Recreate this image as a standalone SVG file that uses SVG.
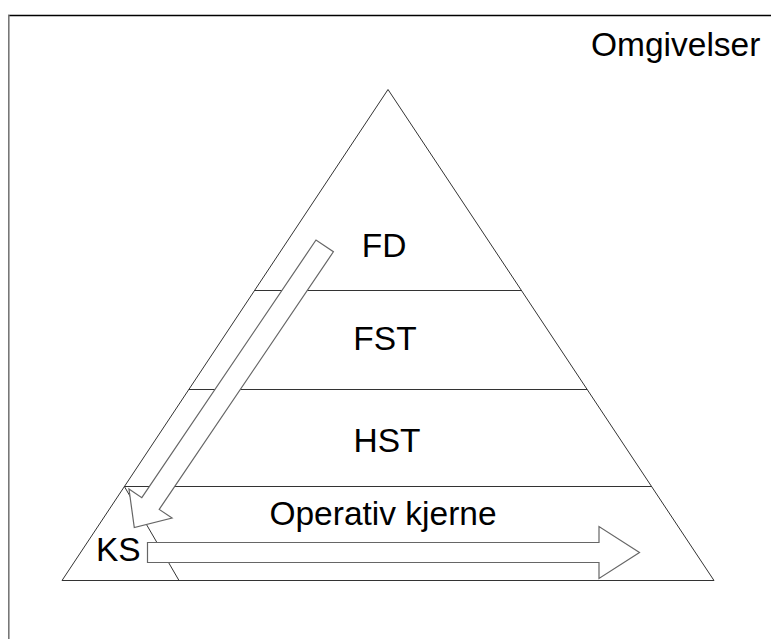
<svg xmlns="http://www.w3.org/2000/svg" width="771" height="639" viewBox="0 0 771 639">
<style>
.lbl{font-family:"Liberation Sans",Arial,sans-serif;font-size:33.5px;fill:#000}
.edge{fill:none;stroke:#333;stroke-width:1}
.arrow{fill:#fff;stroke:#666;stroke-width:1.2;stroke-linejoin:miter}
</style>
<rect x="0" y="0" width="771" height="639" fill="#fff"/>
<g id="frame">
<line x1="8" y1="15.5" x2="771" y2="15.5" stroke="#000" stroke-width="1.5"/>
<line x1="8.8" y1="15" x2="8.8" y2="639" stroke="#777" stroke-width="1.6"/>
</g>
<g id="pyramid">
<path class="edge" d="M388,89.5 L62,580.5 L714,580.5 Z" stroke="#555"/>
<line class="edge" x1="254.5" y1="290.5" x2="521.5" y2="290.5"/>
<line class="edge" x1="188.8" y1="389.5" x2="587.2" y2="389.5"/>
<line class="edge" x1="124.4" y1="486.5" x2="651.6" y2="486.5"/>
<line class="edge" x1="124.4" y1="486.5" x2="179" y2="580.5" stroke="#555"/>
</g>
<g id="labels">
<text class="lbl" x="591" y="56">Omgivelser</text>
<text class="lbl" x="384" y="257" text-anchor="middle">FD</text>
<text class="lbl" x="385" y="350" text-anchor="middle">FST</text>
<text class="lbl" x="387" y="452" text-anchor="middle">HST</text>
<text class="lbl" x="383" y="525" text-anchor="middle">Operativ kjerne</text>
<text class="lbl" x="96" y="561">KS</text>
</g>
<g id="connectors">
<polygon class="arrow" transform="translate(324.7,245.9) rotate(124.06)" points="0,-10.5 311,-10.5 311,-26 340,0 311,26 311,10.5 0,10.5"/>
<polygon class="arrow" points="147.5,542.5 599,542.5 599,526.5 639.5,552.5 599,578.5 599,562.5 147.5,562.5"/>
</g>
</svg>
